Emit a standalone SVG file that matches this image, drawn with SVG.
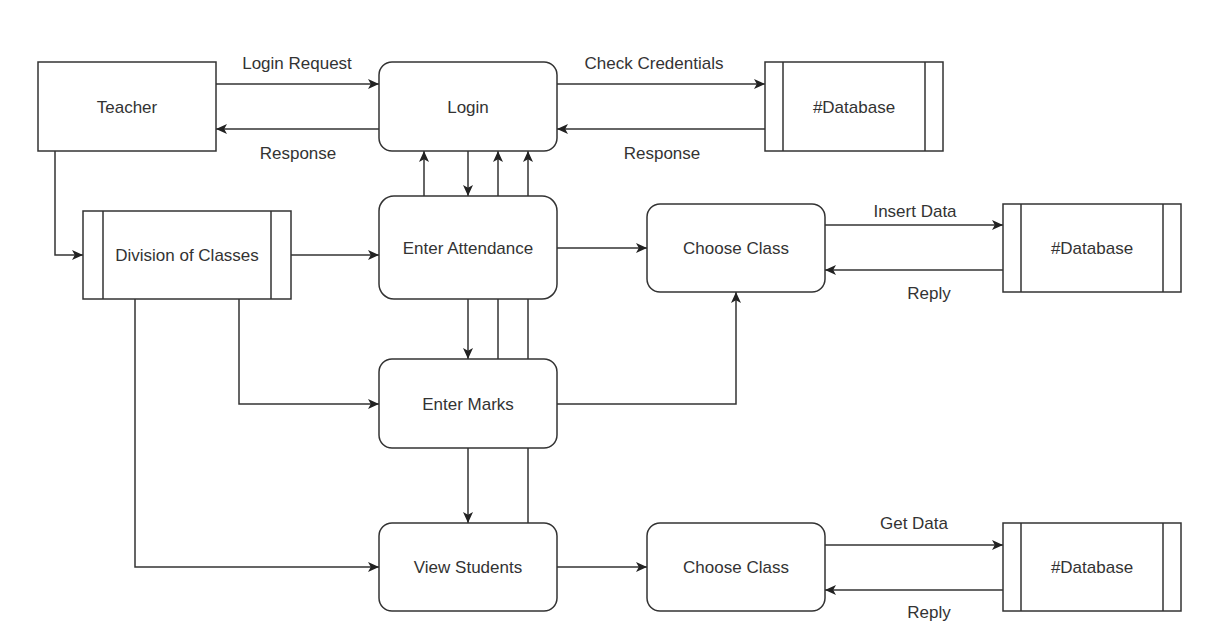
<svg xmlns="http://www.w3.org/2000/svg" width="1206" height="630" viewBox="0 0 1206 630">
<style>
.box{fill:#fff;stroke:#333;stroke-width:1.5}
.ln{fill:none;stroke:#333;stroke-width:1.5}
.arr{fill:none;stroke:#333;stroke-width:1.5;marker-end:url(#ah)}
text{font-family:"Liberation Sans",Arial,sans-serif;font-size:17px;fill:#333;text-anchor:middle}
</style>
<defs>
<marker id="ah" viewBox="0 0 11 10" refX="11" refY="5" markerWidth="11" markerHeight="10" orient="auto" markerUnits="userSpaceOnUse">
<path d="M0,0 L11,5 L0,10 L2.8,5 Z" fill="#222"/>
</marker>
</defs>
<rect width="1206" height="630" fill="#fff"/>
<g id="connectors">
<path class="arr" d="M216,84 H379"/>
<path class="arr" d="M379,129 H216"/>
<path class="arr" d="M557,84 H765"/>
<path class="arr" d="M765,129 H557"/>
<path class="arr" d="M55,151 V255 H83"/>
<path class="arr" d="M291,255 H379"/>
<path class="arr" d="M424,196 V151"/>
<path class="arr" d="M468,151 V196"/>
<path class="arr" d="M498,359 V151"/>
<path class="arr" d="M528,523 V151"/>
<path class="arr" d="M468,299 V359"/>
<path class="arr" d="M468,448 V523"/>
<path class="arr" d="M557,248 H647"/>
<path class="arr" d="M825,225 H1003"/>
<path class="arr" d="M1003,270 H825"/>
<path class="arr" d="M557,404 H736 V292"/>
<path class="arr" d="M239,299 V404 H379"/>
<path class="arr" d="M135,299 V567 H379"/>
<path class="arr" d="M557,567 H647"/>
<path class="arr" d="M825,545 H1003"/>
<path class="arr" d="M1003,590 H825"/>
<text x="297" y="69">Login Request</text>
<text x="298" y="159">Response</text>
<text x="654" y="69">Check Credentials</text>
<text x="662" y="159">Response</text>
<text x="915" y="217">Insert Data</text>
<text x="929" y="299">Reply</text>
<text x="914" y="529">Get Data</text>
<text x="929" y="618">Reply</text>
</g>
<g id="teacher">
<rect class="box" x="38" y="62" width="178" height="89"/>
<text x="127" y="112.5">Teacher</text>
</g>
<g id="login">
<rect class="box" x="379" y="62" width="178" height="89" rx="13" ry="13"/>
<text x="468" y="112.5">Login</text>
</g>
<g id="db1">
<rect class="box" x="765" y="62" width="178" height="89"/>
<path class="ln" d="M783,62 V151 M925,62 V151"/>
<text x="854" y="112.5">#Database</text>
</g>
<g id="division">
<rect class="box" x="83" y="211" width="208" height="88"/>
<path class="ln" d="M103,211 V299 M271,211 V299"/>
<text x="187" y="261">Division of Classes</text>
</g>
<g id="attendance">
<rect class="box" x="379" y="196" width="178" height="103" rx="15" ry="15"/>
<text x="468" y="253.5">Enter Attendance</text>
</g>
<g id="choose1">
<rect class="box" x="647" y="204" width="178" height="88" rx="13" ry="13"/>
<text x="736" y="254">Choose Class</text>
</g>
<g id="db2">
<rect class="box" x="1003" y="204" width="178" height="88"/>
<path class="ln" d="M1021,204 V292 M1163,204 V292"/>
<text x="1092" y="254">#Database</text>
</g>
<g id="marks">
<rect class="box" x="379" y="359" width="178" height="89" rx="13" ry="13"/>
<text x="468" y="409.5">Enter Marks</text>
</g>
<g id="view">
<rect class="box" x="379" y="523" width="178" height="88" rx="13" ry="13"/>
<text x="468" y="573">View Students</text>
</g>
<g id="choose2">
<rect class="box" x="647" y="523" width="178" height="88" rx="13" ry="13"/>
<text x="736" y="573">Choose Class</text>
</g>
<g id="db3">
<rect class="box" x="1003" y="523" width="178" height="88"/>
<path class="ln" d="M1021,523 V611 M1163,523 V611"/>
<text x="1092" y="573">#Database</text>
</g>
</svg>
